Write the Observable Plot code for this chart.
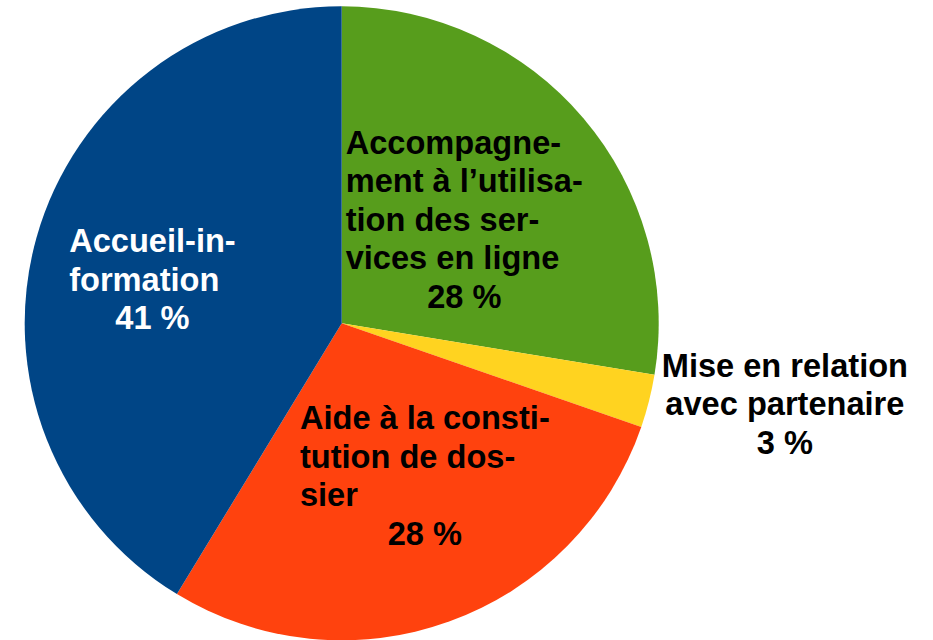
<!DOCTYPE html>
<html>
<head>
<meta charset="utf-8">
<script src="https://cdn.jsdelivr.net/npm/d3@7"></script>
<script src="https://cdn.jsdelivr.net/npm/@observablehq/plot@0.6"></script>
<style>
  html, body { margin: 0; padding: 0; background: #fff; }
</style>
</head>
<body>
<div id="chart"></div>
<script>
// ---- data ----
const categories = [
  "Accompagnement à l’utilisation des services en ligne",
  "Mise en relation avec partenaire",
  "Aide à la constitution de dossier",
  "Accueil-information"
];
const values = [27.6, 2.7, 28.4, 41.3];
const labelLines = [
  ["Accompagne-", "ment à l’utilisa-", "tion des ser-", "vices en ligne"],
  ["Mise en relation", "avec partenaire"],
  ["Aide à la consti-", "tution de dos-", "sier"],
  ["Accueil-in-", "formation"]
];
const colors = ["#579d1c", "#ffd320", "#ff420e", "#004586"];
const textColors = ["#000000", "#000000", "#000000", "#ffffff"];

// ---- layout (style) ----
const W = 933, H = 640;
const CX = 341.7, CY = 323.3, R = 317;
const FONT = "Liberation Sans", FS = 32.6, LH = 38.5;
const placement = [
  {r: 0.505, shift: 0, outside: false},
  {r: 1.04, shift: 0, outside: true},
  {r: 0.548, shift: -8.6, outside: false},
  {r: 0.614, shift: -2.8, outside: false}
];

const arcs = d3.pie().sort(null).value(d => d)(values);

const ctx = document.createElement("canvas").getContext("2d");
ctx.font = `bold ${FS}px "${FONT}"`;
const measure = s => ctx.measureText(s).width;

const startRows = [], middleRows = [];
arcs.forEach((a, i) => {
  const p = placement[i];
  const ang = (a.startAngle + a.endAngle) / 2 + p.shift * Math.PI / 180;
  const ax = R * p.r * Math.sin(ang);
  const ay = -R * p.r * Math.cos(ang);
  const lines = labelLines[i];
  const pct = Math.round(values[i]) + " %";
  const n = lines.length + 1;
  const bw = d3.max(lines.concat([pct]), measure);
  const all = lines.concat([pct]);
  all.forEach((t, j) => {
    const y = ay + (j - (n - 1) / 2) * LH;
    if (p.outside) {
      middleRows.push({text: t, x: ax + bw / 2, y, fill: textColors[i]});
    } else if (j < lines.length) {
      startRows.push({text: t, x: ax - bw / 2, y, fill: textColors[i]});
    } else {
      middleRows.push({text: t, x: ax, y, fill: textColors[i]});
    }
  });
});

function pieMark(index, scales) {
  const cx = scales.x(0), cy = scales.y(0);
  const r = scales.x(R) - scales.x(0);
  const g = d3.create("svg:g").attr("transform", `translate(${cx},${cy})`);
  const arc = d3.arc().innerRadius(0).outerRadius(r);
  g.selectAll("path").data(arcs).join("path")
    .attr("d", arc)
    .attr("fill", (d, i) => colors[i]);
  return g.node();
}

const textOpts = {
  x: "x", y: "y", text: "text", fill: "fill",
  fontFamily: FONT, fontWeight: "bold", fontSize: FS, lineAnchor: "middle"
};

const chart = Plot.plot({
  width: W, height: H,
  margin: 0,
  style: {background: "#fff", overflow: "visible"},
  x: {domain: [-CX, W - CX], range: [0, W], axis: null},
  y: {domain: [-CY, H - CY], range: [0, H], axis: null},
  color: {type: "identity"},
  marks: [
    pieMark,
    Plot.text(startRows, {...textOpts, textAnchor: "start"}),
    Plot.text(middleRows, {...textOpts, textAnchor: "middle"})
  ]
});
document.getElementById("chart").appendChild(chart);
</script>
</body>
</html>
